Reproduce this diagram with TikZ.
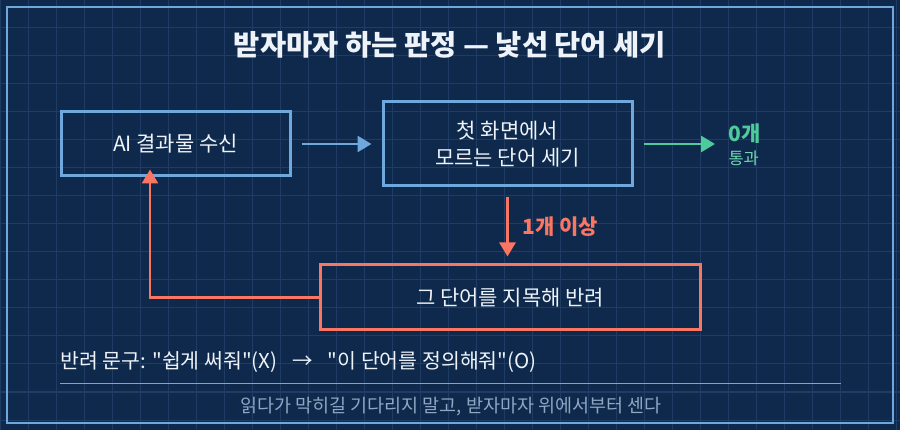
\documentclass[tikz,border=0pt]{standalone}
\usepackage{fontspec}
\setmainfont{Noto Sans CJK KR}[Ligatures=TeXOff]
\usetikzlibrary{arrows.meta}
\definecolor{bg}{HTML}{0E294B}
\definecolor{gridc}{HTML}{1E3C64}
\definecolor{blu}{HTML}{6FA8DC}
\definecolor{grn}{HTML}{4ECB9C}
\definecolor{crl}{HTML}{FA7562}
\definecolor{foot}{HTML}{8FA6C4}
\definecolor{txt}{HTML}{EEF3FA}
\tikzset{
  box/.style={draw=blu, line width=3pt, text=txt, align=center, inner sep=0pt},
  redbox/.style={draw=crl, line width=3pt, text=txt, align=center, inner sep=0pt},
  blueflow/.style={draw=blu, line width=2.7pt, -{Triangle[length=14pt,width=16pt]}},
  greenflow/.style={draw=grn, line width=2.7pt, -{Triangle[length=14pt,width=16pt]}},
  redflow/.style={draw=crl, line width=2.7pt, -{Triangle[length=14pt,width=16pt]}},
  body/.style={font=\fontsize{21}{27}\selectfont},
}
\begin{document}
\begin{tikzpicture}[x=1pt,y=-1pt]
\fill[bg] (0,0) rectangle (900,430);
\useasboundingbox (0,0) rectangle (900,430);
\foreach \i in {0,...,32} \draw[gridc, line width=1pt] (28*\i,0) -- (28*\i,430);
\foreach \j in {0,...,15} \draw[gridc, line width=1pt] (0,28*\j) -- (900,28*\j);
\draw[blu, line width=2pt] (7,7) rectangle (893,423);

\node[text=txt, font=\fontsize{28.5}{32}\selectfont\bfseries] (title) at (450,45) {받자마자 하는 판정 — 낯선 단어 세기};

\node[box, body, minimum width=229pt, minimum height=64pt] (b1) at (175.5,144) {AI 결과물 수신};
\node[box, body, minimum width=249pt, minimum height=84pt] (b2) at (507.5,144) {첫 화면에서\\모르는 단어 세기};
\node[redbox, body, minimum width=380pt, minimum height=65pt] (b3) at (510,297.5) {그 단어를 지목해 반려};

\coordinate (pass) at (715,144);
\draw[blueflow, shorten <=10pt, shorten >=10pt] (b1) -- (b2);
\draw[greenflow, shorten <=10pt] (b2.east) -- (pass);
\node[text=grn, font=\fontsize{21}{24}\selectfont\bfseries, anchor=west] (zero) at (725,134) {0개};
\node[text=grn!80!white, font=\fontsize{16.5}{20}\selectfont, anchor=west] (tong) at (725,158) {통과};

\draw[redflow, shorten <=10pt, shorten >=7pt] (b2.south) -- (b2.south |- b3.north);
\node[text=crl, font=\fontsize{21}{24}\selectfont\bfseries, anchor=west] (more) at (519,227) {1개 이상};

\draw[redflow, shorten >=-8pt] (b3.west) -| ([xshift=-25.5pt]b1.south);

\node[text=txt, font=\fontsize{20.5}{24}\selectfont, anchor=west] (phrase) at (57,362) {반려 문구: "쉽게 써줘"(X)\hspace{15pt}→\hspace{15pt}"이 단어를 정의해줘"(O)};
\draw[blu, line width=1pt] (60,384) -- (841,384);
\node[text=foot, font=\fontsize{18.5}{20}\selectfont] (footer) at (451,407) {읽다가 막히길 기다리지 말고, 받자마자 위에서부터 센다};
\end{tikzpicture}
\end{document}
